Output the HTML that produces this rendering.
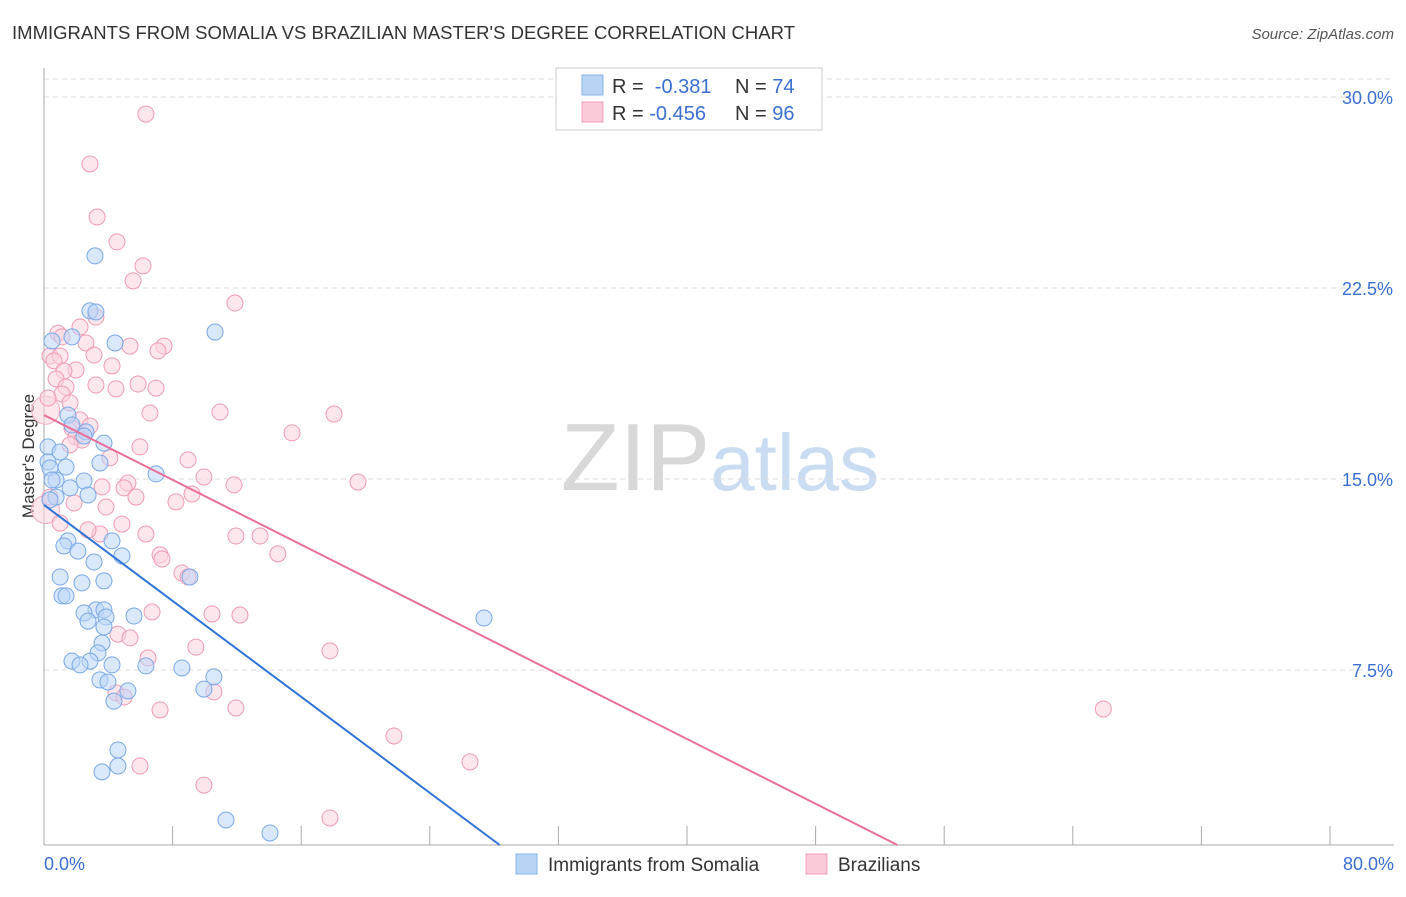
<!DOCTYPE html>
<html><head><meta charset="utf-8"><style>
body{margin:0;background:#fff;font-family:"Liberation Sans",sans-serif;}
svg text{font-family:"Liberation Sans",sans-serif;}
</style></head><body>
<svg id="chart" width="1406" height="892" xmlns="http://www.w3.org/2000/svg">
<text x="12" y="39" font-size="18.5" fill="#333" textLength="783">IMMIGRANTS FROM SOMALIA VS BRAZILIAN MASTER'S DEGREE CORRELATION CHART</text>
<text x="1394" y="39" font-size="15" fill="#555" text-anchor="end" font-style="italic">Source: ZipAtlas.com</text>
<text x="720" y="490" font-size="96" text-anchor="middle" font-family="Liberation Serif"><tspan fill="#d8d8d8">ZIP</tspan><tspan fill="#c9dcf2" font-family="Liberation Sans" font-size="80">atlas</tspan></text>
<text transform="translate(34,456) rotate(-90)" font-size="17" fill="#333" text-anchor="middle">Master's Degree</text>
<g id="grid"></g><g id="ticks"></g><g id="pts"></g><g id="lines"></g>
<g>
<rect x="556" y="68" width="266" height="62" fill="#fff" stroke="#ccc"/>
<rect x="582" y="75" width="21" height="20" fill="#b8d4f5" stroke="#8ab4e8"/>
<text x="612" y="93" font-size="20" fill="#333">R = <tspan fill="#3b6fd1">&#160;-0.381</tspan><tspan x="735">N = </tspan><tspan fill="#3b6fd1">74</tspan></text>
<rect x="582" y="102" width="21" height="20" fill="#fcc9d8" stroke="#f0a0b8"/>
<text x="612" y="120" font-size="20" fill="#333">R = <tspan fill="#3b6fd1">-0.456</tspan><tspan x="735">N = </tspan><tspan fill="#3b6fd1">96</tspan></text>
</g>
<g>
<rect x="516" y="854" width="21" height="20" fill="#b8d4f5" stroke="#8ab4e8"/>
<text x="548" y="871" font-size="19" fill="#333">Immigrants from Somalia</text>
<rect x="806" y="854" width="21" height="20" fill="#fcc9d8" stroke="#f0a0b8"/>
<text x="838" y="871" font-size="19" fill="#333">Brazilians</text>
</g>
</svg>
<script>
const yTicks=[7.5,15,22.5,30];
const yTickLabels=["7.5%","15.0%","22.5%","30.0%"];
const xTickLabels=["0.0%","80.0%"];
const blueX=[3.17,2.86,3.23,10.64,1.74,4.42,0.5,1.49,1.74,2.61,2.49,3.73,0.25,1.0,0.25,3.48,1.37,0.37,0.75,0.5,2.49,6.97,1.62,2.74,0.75,0.37,4.23,1.49,1.24,2.11,4.85,3.11,1.0,3.73,2.36,1.12,1.37,3.23,2.49,3.73,5.6,2.74,3.86,3.73,9.08,27.37,3.61,3.36,1.74,2.86,2.24,4.23,6.34,8.58,10.57,3.48,3.98,5.22,9.95,4.35,4.6,4.6,3.61,11.32,14.06];
const blueY=[23.76,21.6,21.56,20.77,20.58,20.34,20.42,17.51,17.12,16.85,16.69,16.41,16.26,16.06,15.67,15.63,15.47,15.43,14.96,14.96,14.92,15.2,14.65,14.37,14.29,14.18,12.57,12.57,12.37,12.17,11.98,11.74,11.15,11.0,10.92,10.41,10.41,9.86,9.74,9.86,9.62,9.42,9.58,9.19,11.15,9.54,8.56,8.17,7.85,7.85,7.7,7.7,7.66,7.58,7.23,7.11,7.03,6.68,6.75,6.28,4.36,3.73,3.5,1.61,1.1];
const pinkX=[6.34,2.86,3.3,4.54,6.16,5.54,11.88,3.23,2.24,0.87,1.12,2.61,5.35,7.46,7.09,0.37,1.0,0.62,3.11,4.23,1.99,1.24,0.75,5.85,6.97,3.23,4.48,1.37,1.12,0.25,1.62,6.59,10.95,18.04,2.24,1.74,2.86,1.99,2.36,1.62,15.43,5.97,4.1,8.96,9.95,19.53,11.82,5.22,3.61,4.98,5.72,9.21,8.21,0.37,1.87,3.86,4.85,3.48,1.0,2.74,6.34,11.94,13.44,14.55,7.22,7.34,8.58,8.96,6.72,10.45,12.19,4.6,5.35,9.45,6.47,17.79,4.48,4.98,10.57,7.22,11.94,21.77,26.5,5.97,9.95,17.79,65.9];
const pinkY=[29.33,27.37,25.29,24.31,23.37,22.78,21.91,21.36,20.97,20.73,20.58,20.34,20.22,20.22,20.03,19.83,19.83,19.64,19.87,19.44,19.28,19.24,18.93,18.73,18.57,18.69,18.54,18.61,18.34,18.18,17.99,17.59,17.63,17.55,17.32,17.0,17.08,16.65,16.53,16.34,16.81,16.26,15.83,15.75,15.08,14.88,14.77,14.84,14.69,14.65,14.29,14.41,14.1,14.29,14.06,13.9,13.23,12.84,13.27,13.0,12.84,12.76,12.76,12.06,12.02,11.86,11.31,11.15,9.78,9.7,9.66,8.91,8.76,8.4,7.97,8.25,6.6,6.44,6.64,5.93,6.01,4.91,3.89,3.73,2.98,1.69,5.97];
const bigPinkX=[0.1,0.1];
const bigPinkY=[17.7,13.8];
const blueTrend=[13.98,-0.471];
const pinkTrend=[17.51,-0.318];
const NS="http://www.w3.org/2000/svg";
const X0=44,X1=1330,YB=845;
function xs(v){return X0+v*(X1-X0)/80;}
function ys(v){return 861-v*191/7.5;}
function mk(t,a,p){const e=document.createElementNS(NS,t);for(const k in a)e.setAttribute(k,a[k]);p.appendChild(e);return e;}
const gridG=document.getElementById('grid'),ticksG=document.getElementById('ticks'),ptsG=document.getElementById('pts'),linesG=document.getElementById('lines');
const topLine=mk('line',{x1:X0,x2:1394,y1:79,y2:79,stroke:'#ddd','stroke-dasharray':'5,4'},gridG);


yTicks.forEach((t,i)=>{
 const g=mk('line',{x1:X0,x2:1394,y1:ys(t),y2:ys(t),stroke:'#ddd','stroke-dasharray':'5,4'},gridG);
 
 
 const l=mk('text',{x:1393,y:ys(t)+7,'font-size':18,fill:'#3b6fd1','text-anchor':'end'},ticksG);
 l.textContent=yTickLabels[i];
 
 
});
const yAxis=mk('line',{x1:X0,x2:X0,y1:68,y2:YB,stroke:'#aaa'},ticksG);


const xAxis=mk('line',{x1:X0,x2:1394,y1:YB,y2:YB,stroke:'#aaa'},ticksG);


for(let v=8;v<=80;v+=8){
 const t=mk('line',{x1:xs(v),x2:xs(v),y1:826,y2:YB,stroke:'#aaa'},ticksG);
 
 
}
[[0,'start',X0],[80,'end',1394]].forEach((d,i)=>{
 const l=mk('text',{x:d[2],y:870,'font-size':18,fill:'#3b6fd1','text-anchor':d[1]},ticksG);
 l.textContent=xTickLabels[i];
 
 
});
function dots(xv,yv,fill,stroke,name,r){
 xv.forEach((x,i)=>{
  const c=mk('circle',{cx:xs(x),cy:ys(yv[i]),r:r,fill:fill,'fill-opacity':0.55,stroke:stroke,'stroke-width':1},ptsG);
  
  
 });
}
dots(bigPinkX,bigPinkY,'#fcd3df','#f3b0c4','brazilian-point-large',14);
dots(pinkX,pinkY,'#fcd3df','#f09ab5','brazilian-point',8);
dots(blueX,blueY,'#bcd6f7','#7aa8e6','somalia-point',8);
function trend(tr,color,name){
 const yAxisVal=(861-YB)*7.5/191;
 const xEnd=(yAxisVal-tr[0])/tr[1];
 const l=mk('line',{x1:xs(0),y1:ys(tr[0]),x2:xs(xEnd),y2:ys(tr[0]+tr[1]*xEnd),stroke:color,'stroke-width':2},linesG);
 
 
}
trend(blueTrend,'#2f74d6','somalia-trend-line');
trend(pinkTrend,'#e8709a','brazilian-trend-line');
</script>
</body></html>
